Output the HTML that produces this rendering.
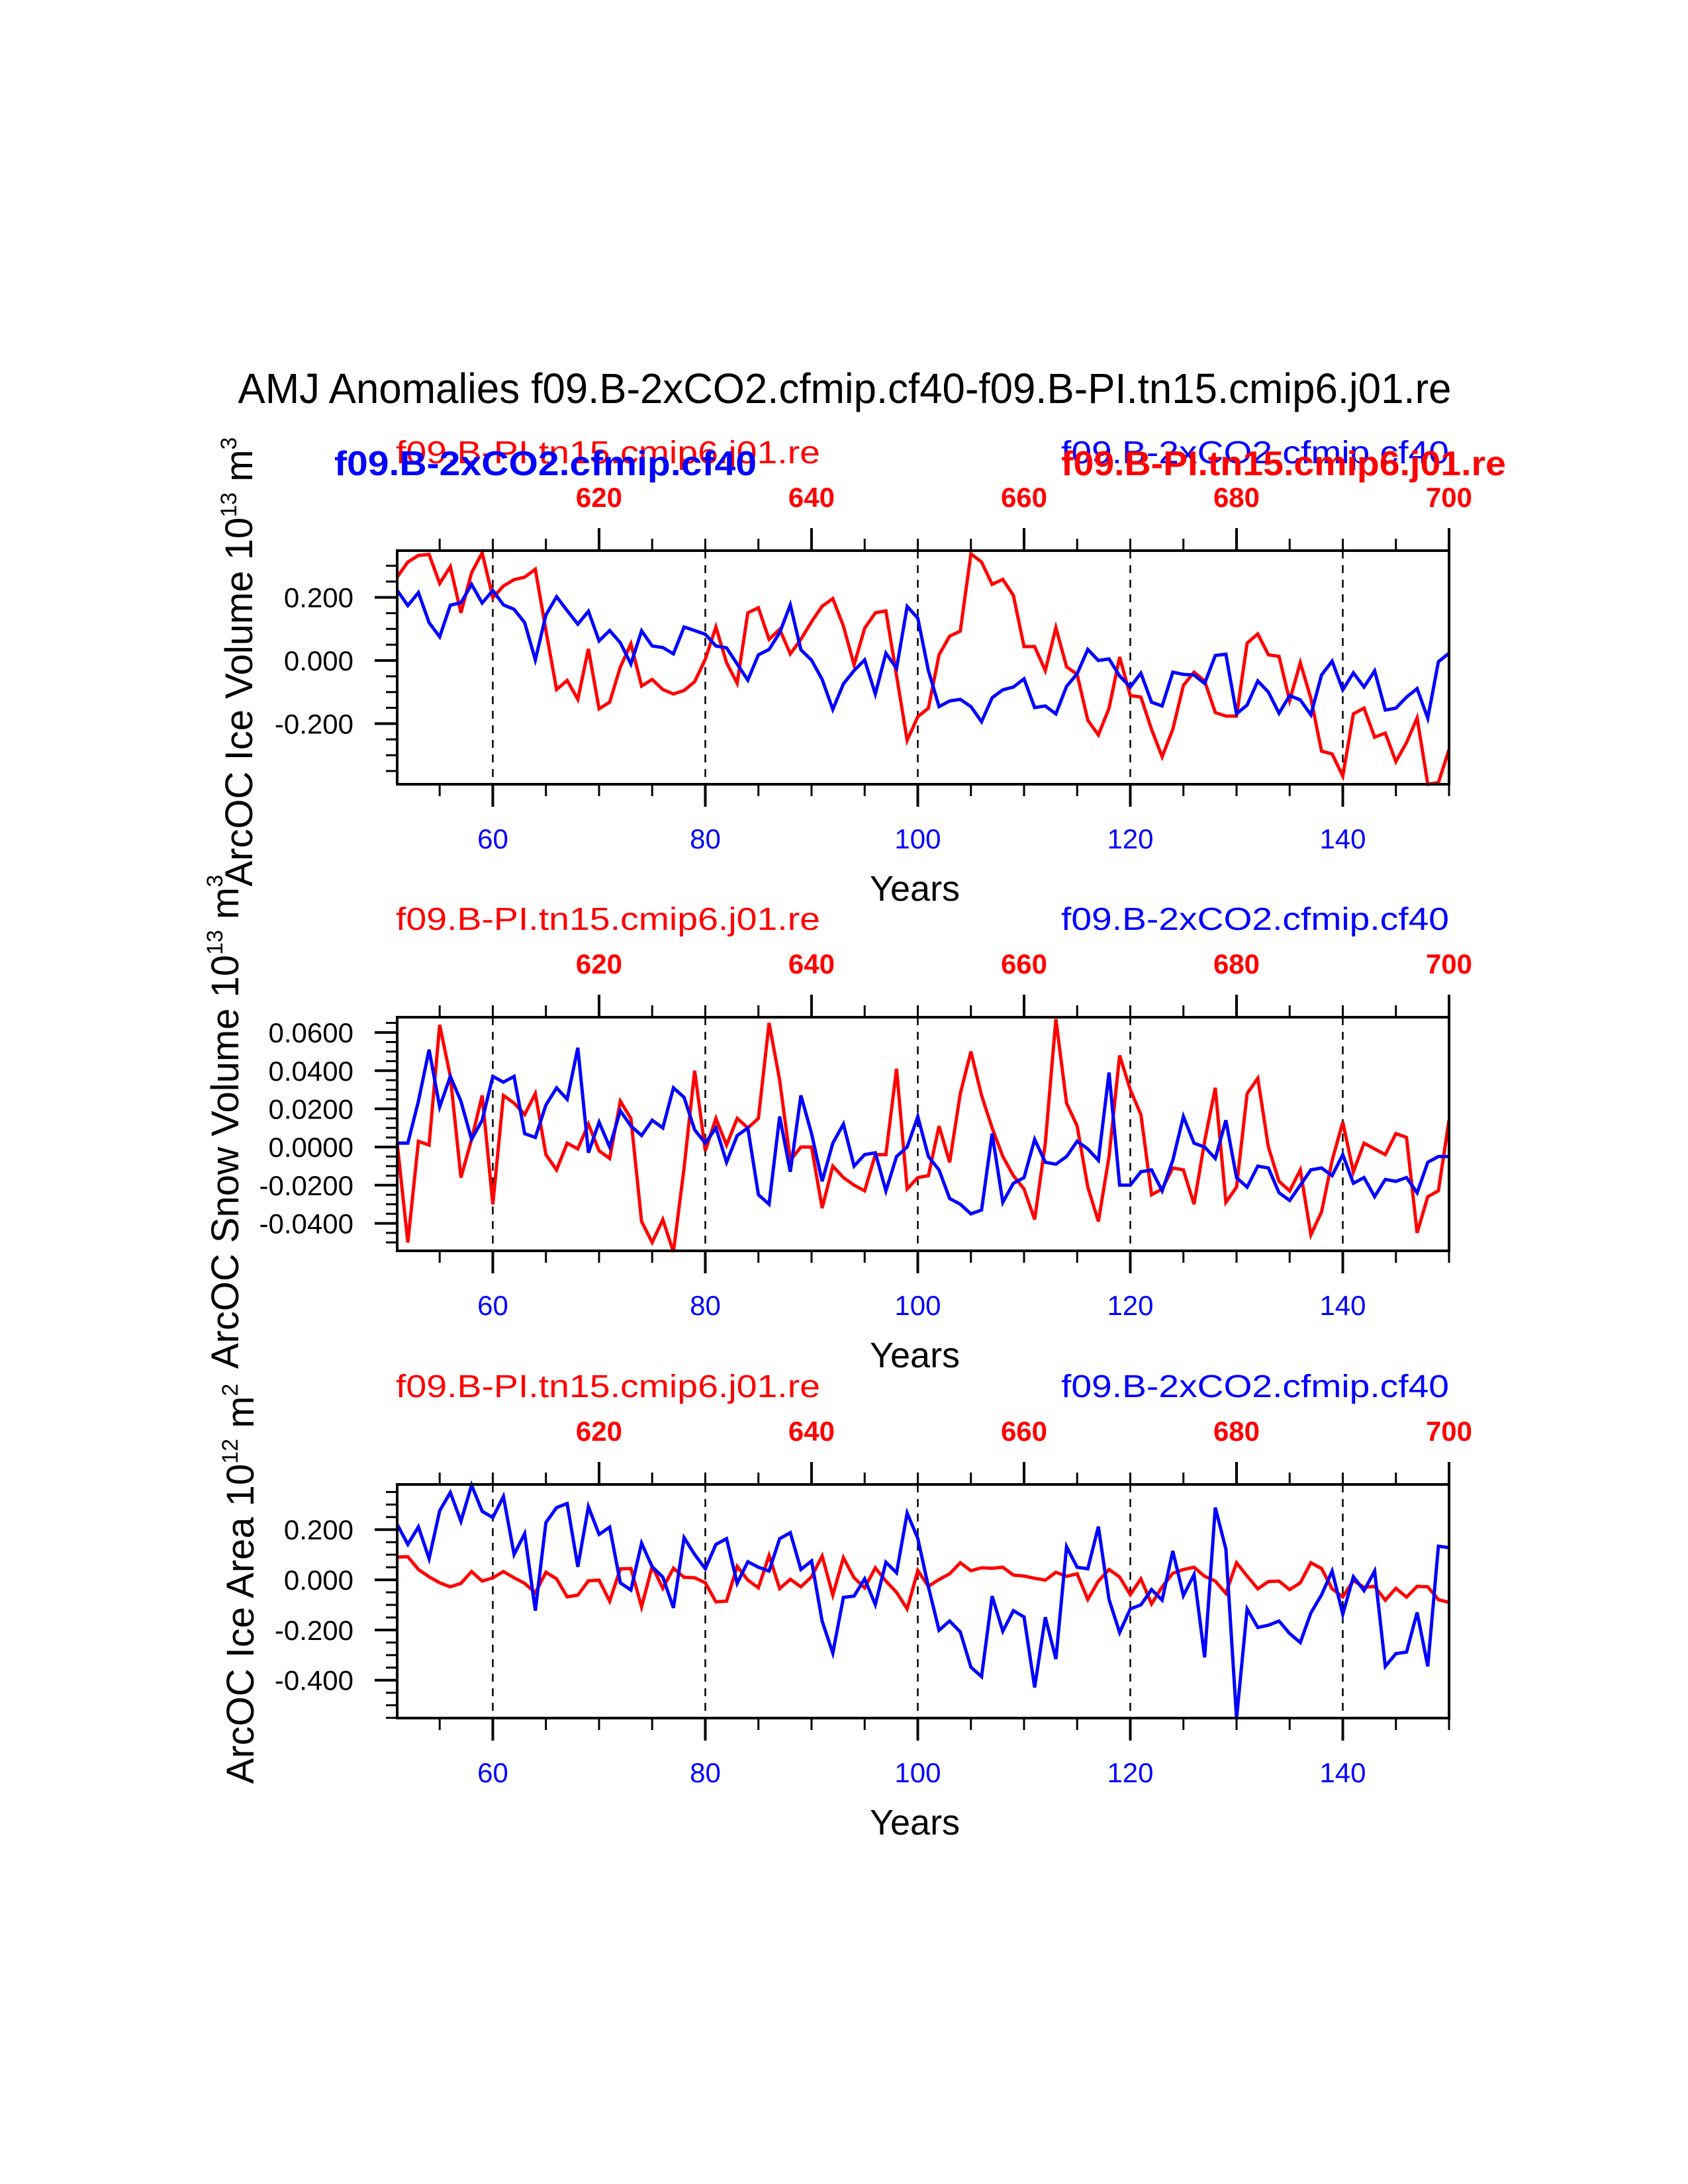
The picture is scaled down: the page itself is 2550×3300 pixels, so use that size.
<!DOCTYPE html>
<html><head><meta charset="utf-8"><style>html,body{margin:0;padding:0;background:#fff}svg{display:block}text{font-family:"Liberation Sans",Arial,sans-serif}</style></head>
<body>
<svg id="chart" xmlns="http://www.w3.org/2000/svg" width="2550" height="3300" viewBox="0 0 2550 3300">
<rect width="2550" height="3300" fill="#fff"/>
<text x="1276" y="609" font-size="64" text-anchor="middle" textLength="1833" lengthAdjust="spacingAndGlyphs">AMJ Anomalies f09.B-2xCO2.cfmip.cf40-f09.B-PI.tn15.cmip6.j01.re</text>
</svg>
<script>
const years = [];
for (let y = 51; y <= 150; y++) years.push(y);
const iceVolRed = [0.264,0.312,0.333,0.336,0.244,0.297,0.151,0.278,0.341,0.199,0.236,0.256,0.264,0.289,0.095,-0.092,-0.063,-0.123,0.037,-0.153,-0.132,-0.021,0.053,-0.081,-0.060,-0.092,-0.106,-0.095,-0.067,0.004,0.106,-0.007,-0.072,0.151,0.167,0.067,0.099,0.021,0.067,0.123,0.172,0.196,0.109,-0.014,0.102,0.151,0.157,-0.048,-0.253,-0.178,
-0.151,0.018,0.077,0.093,0.338,0.312,0.241,0.257,0.206,0.044,0.044,-0.032,0.104,-0.020,-0.044,-0.189,-0.236,-0.151,0.011,-0.111,-0.116,-0.218,-0.305,-0.218,-0.079,-0.037,-0.065,-0.165,-0.176,-0.176,0.055,0.084,0.018,0.013,-0.127,-0.007,-0.120,-0.287,-0.296,-0.366,-0.169,-0.151,-0.243,-0.230,-0.320,-0.260,-0.182,-0.392,-0.387,-0.282];
const iceVolBlue = [0.222,0.174,0.215,0.120,0.075,0.175,0.183,0.241,0.182,0.222,0.176,0.162,0.120,0.002,0.144,0.202,0.158,0.115,0.156,0.062,0.095,0.056,-0.011,0.094,0.046,0.041,0.021,0.106,0.095,0.083,0.046,0.040,-0.011,-0.062,0.018,0.035,0.088,0.176,0.034,0.001,-0.060,-0.155,-0.074,-0.032,0.002,-0.106,0.023,-0.025,0.171,0.134,
-0.032,-0.146,-0.128,-0.123,-0.146,-0.194,-0.118,-0.093,-0.084,-0.058,-0.149,-0.144,-0.169,-0.082,-0.042,0.035,0.000,0.005,-0.049,-0.084,-0.040,-0.132,-0.144,-0.037,-0.044,-0.046,-0.073,0.016,0.020,-0.169,-0.141,-0.065,-0.100,-0.167,-0.111,-0.125,-0.172,-0.046,-0.002,-0.093,-0.039,-0.084,-0.033,-0.157,-0.151,-0.116,-0.089,-0.183,-0.004,0.023];
const snowRed = [0.002,-0.050,0.003,0.001,0.064,0.037,-0.016,0.004,0.027,-0.030,0.027,0.023,0.017,0.028,-0.004,-0.012,0.002,-0.001,0.012,-0.002,-0.006,0.024,0.015,-0.039,-0.050,-0.038,-0.055,-0.011,0.040,-0.002,0.015,0.001,0.015,0.010,0.015,0.065,0.035,-0.007,0.000,0.000,-0.032,-0.010,-0.016,-0.020,-0.023,-0.004,-0.004,0.041,-0.022,-0.016,
-0.015,0.011,-0.008,0.028,0.050,0.027,0.010,-0.005,-0.015,-0.022,-0.038,0.002,0.067,0.023,0.011,-0.021,-0.039,-0.005,0.048,0.030,0.017,-0.025,-0.022,-0.011,-0.012,-0.030,0.003,0.031,-0.029,-0.021,0.028,0.036,0.000,-0.018,-0.023,-0.012,-0.046,-0.034,-0.007,0.013,-0.013,0.002,-0.001,-0.004,0.007,0.005,-0.045,-0.026,-0.023,0.014];
const snowBlue = [0.002,0.002,0.024,0.051,0.021,0.037,0.024,0.004,0.014,0.037,0.034,0.037,0.007,0.005,0.022,0.031,0.025,0.052,-0.003,0.013,0.000,0.019,0.011,0.006,0.014,0.010,0.031,0.026,0.009,0.002,0.010,-0.008,0.006,0.010,-0.025,-0.030,0.016,-0.013,0.027,0.007,-0.018,0.002,0.012,-0.010,-0.004,-0.003,-0.023,-0.005,0.000,0.016,
-0.005,-0.012,-0.027,-0.030,-0.035,-0.033,0.007,-0.029,-0.019,-0.016,0.004,-0.008,-0.009,-0.005,0.003,-0.001,-0.007,0.039,-0.020,-0.020,-0.013,-0.012,-0.023,-0.007,0.016,0.002,0.000,-0.006,0.014,-0.016,-0.021,-0.010,-0.011,-0.024,-0.028,-0.020,-0.012,-0.011,-0.015,-0.004,-0.019,-0.016,-0.026,-0.017,-0.018,-0.016,-0.024,-0.008,-0.005,-0.005];
const areaRed = [0.091,0.092,0.041,0.012,-0.012,-0.028,-0.014,0.033,-0.005,0.008,0.033,0.008,-0.014,-0.052,0.030,0.004,-0.068,-0.061,-0.004,-0.001,-0.085,0.044,0.045,-0.108,0.054,-0.034,0.046,0.010,0.008,-0.012,-0.088,-0.085,0.054,-0.001,-0.032,0.097,-0.035,0.002,-0.028,0.012,0.095,-0.061,0.088,0.008,-0.032,0.048,-0.005,-0.050,-0.116,0.037,
-0.026,0.001,0.024,0.068,0.036,0.048,0.046,0.050,0.019,0.015,0.006,-0.001,0.030,0.014,0.024,-0.078,-0.005,0.041,0.011,-0.059,0.004,-0.096,-0.028,0.026,0.041,0.050,0.014,-0.005,-0.054,0.068,0.015,-0.036,-0.007,-0.005,-0.039,-0.012,0.068,0.045,-0.036,-0.068,-0.003,-0.030,-0.026,-0.081,-0.034,-0.069,-0.026,-0.028,-0.079,-0.090];
const areaBlue = [0.221,0.141,0.211,0.084,0.275,0.348,0.233,0.377,0.273,0.248,0.332,0.101,0.184,-0.123,0.228,0.288,0.304,0.052,0.291,0.181,0.210,-0.012,-0.041,0.146,0.052,0.011,-0.112,0.168,0.101,0.044,0.141,0.164,-0.014,0.072,0.050,0.035,0.164,0.188,0.041,0.075,-0.165,-0.292,-0.070,-0.065,0.004,-0.099,0.070,0.028,0.266,0.165,
-0.028,-0.201,-0.164,-0.208,-0.348,-0.386,-0.065,-0.205,-0.123,-0.148,-0.429,-0.149,-0.316,0.132,0.050,0.044,0.212,-0.079,-0.210,-0.116,-0.100,-0.039,-0.081,0.115,-0.063,0.021,-0.309,0.288,0.122,-0.552,-0.116,-0.190,-0.181,-0.164,-0.214,-0.250,-0.132,-0.060,0.035,-0.137,0.012,-0.043,0.035,-0.345,-0.294,-0.288,-0.130,-0.345,0.134,0.128];
const bottomTicks = [60,80,100,120,140];
const topTickYears = [70,90,110,130,150];
const topTickLabels = ["620","640","660","680","700"];
const yTicks1 = [-0.2,0,0.2], yLabels1 = ["-0.200","0.000","0.200"];
const yTicks2 = [-0.04,-0.02,0,0.02,0.04,0.06], yLabels2 = ["-0.0400","-0.0200","0.0000","0.0200","0.0400","0.0600"];
const yTicks3 = [-0.4,-0.2,0,0.2], yLabels3 = ["-0.400","-0.200","0.000","0.200"];

const NS = "http://www.w3.org/2000/svg";
const svg = document.getElementById('chart');
const L = 600, R = 2189, H = 353, X0 = 51, X1 = 150;
const xs = v => L + (v - X0) / (X1 - X0) * (R - L);
function mk(tag, attrs, parent) {
  const e = document.createElementNS(NS, tag);
  for (const k in attrs) e.setAttribute(k, attrs[k]);
  (parent || svg).appendChild(e);
  return e;
}
const panels = [
  {top:832, ymin:-0.392, ymax:0.348, minor:0.05, ticks:yTicks1, labels:yLabels1, red:iceVolRed, blue:iceVolBlue, name:'ice-volume', ylab:['ArcOC Ice Volume 10','13',' m','3'], ylx:381, yly:1000, yll:650},
  {top:1537, ymin:-0.0544, ymax:0.068, minor:0.005, ticks:yTicks2, labels:yLabels2, red:snowRed, blue:snowBlue, name:'snow-volume', ylab:['ArcOC Snow Volume 10','13',' m','3'], ylx:360, yly:1695, yll:720},
  {top:2243, ymin:-0.551, ymax:0.380, minor:0.05, ticks:yTicks3, labels:yLabels3, red:areaRed, blue:areaBlue, name:'ice-area', ylab:['ArcOC Ice Area 10','12',' m','2'], ylx:383, yly:2393, yll:575}
];
panels.forEach((p, pi) => {
  const g = mk('g', {});
  
  
  const T = p.top, B = T + H;
  const ys = v => B - (v - p.ymin) / (p.ymax - p.ymin) * H;
  bottomTicks.forEach(t => {
    const l = mk('line', {x1:xs(t), x2:xs(t), y1:T, y2:B, stroke:'#000', 'stroke-width':2.5, 'stroke-dasharray':'12 10'}, g);
    
    
  });
  [['red', p.red, '#ff0000'], ['blue', p.blue, '#0000ff']].forEach(([nm, arr, col]) => {
    const d = arr.map((v, i) => (i ? 'L' : 'M') + xs(years[i]).toFixed(1) + ' ' + ys(v).toFixed(1)).join(' ');
    const path = mk('path', {d:d, fill:'none', stroke:col, 'stroke-width':5, 'stroke-linejoin':'miter'}, g);
    
    
  });
  const fr = mk('rect', {x:L, y:T, width:R - L, height:H, fill:'none', stroke:'#000', 'stroke-width':4}, g);
  
  
  for (let t = 55; t <= 150; t += 5) {
    const bMaj = bottomTicks.includes(t), tMaj = topTickYears.includes(t);
    mk('line', {x1:xs(t), x2:xs(t), y1:B, y2:B + (bMaj ? 34 : 18), stroke:'#000', 'stroke-width':bMaj ? 4 : 3}, g);
    mk('line', {x1:xs(t), x2:xs(t), y1:T, y2:T - (tMaj ? 34 : 18), stroke:'#000', 'stroke-width':tMaj ? 4 : 3}, g);
  }
  const n0 = Math.ceil(p.ymin / p.minor - 1e-6), n1 = Math.floor(p.ymax / p.minor + 1e-6);
  for (let n = n0; n <= n1; n++) {
    const v = n * p.minor;
    const maj = p.ticks.some(t => Math.abs(t - v) < 1e-9);
    mk('line', {x1:L, x2:L - (maj ? 34 : 17), y1:ys(v), y2:ys(v), stroke:'#000', 'stroke-width':maj ? 4 : 3}, g);
  }
  p.ticks.forEach((t, i) => {
    const tx = mk('text', {x:534, y:ys(t) + 15, 'font-size':42, 'text-anchor':'end', fill:'#000'}, g);
    tx.textContent = p.labels[i];
    
    
  });
  bottomTicks.forEach(t => {
    const tx = mk('text', {x:xs(t), y:B + 97, 'font-size':42, 'text-anchor':'middle', fill:'#0000ff'}, g);
    tx.textContent = String(t);
    
    
  });
  topTickYears.forEach((t, i) => {
    const tx = mk('text', {x:xs(t), y:T - 66, 'font-size':42, 'font-weight':'bold', 'text-anchor':'middle', fill:'#ff0000'}, g);
    tx.textContent = topTickLabels[i];
    
    
  });
  const xt = mk('text', {x:1382, y:B + 176, 'font-size':54, 'text-anchor':'middle', fill:'#000'}, g);
  xt.textContent = 'Years';
  
  
  const lr = mk('text', {x:598, y:T - 132, 'font-size':48, fill:'#ff0000', textLength:641, lengthAdjust:'spacingAndGlyphs'}, g);
  lr.textContent = 'f09.B-PI.tn15.cmip6.j01.re';
  
  
  const rb = mk('text', {x:1603, y:T - 132, 'font-size':48, fill:'#0000ff', textLength:586, lengthAdjust:'spacingAndGlyphs'}, g);
  rb.textContent = 'f09.B-2xCO2.cfmip.cf40';
  
  
  if (pi === 0) {
    const eb = mk('text', {x:505, y:T - 114, 'font-size':52, 'font-weight':'bold', fill:'#0000ff', textLength:638, lengthAdjust:'spacingAndGlyphs'}, g);
    eb.textContent = 'f09.B-2xCO2.cfmip.cf40';
    
    
    const er = mk('text', {x:1603, y:T - 114, 'font-size':52, 'font-weight':'bold', fill:'#ff0000', textLength:672, lengthAdjust:'spacingAndGlyphs'}, g);
    er.textContent = 'f09.B-PI.tn15.cmip6.j01.re';
    
    
  }
  const yl = mk('text', {x:0, y:0, 'font-size':58, 'text-anchor':'middle', fill:'#000', transform:'translate(' + p.ylx + ',' + p.yly + ') rotate(-90)'}, g);
  
  
  p.ylab.forEach((s, i) => {
    const ts = mk('tspan', i % 2 ? {'font-size':34, dy:-24} : (i ? {dy:24} : {}), yl);
    ts.textContent = s;
  });
});
</script>
</body></html>
